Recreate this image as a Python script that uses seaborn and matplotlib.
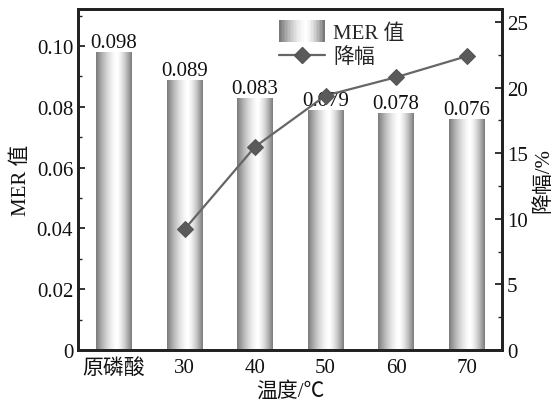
import numpy as np
import matplotlib
matplotlib.use("Agg")
import matplotlib.pyplot as plt
import seaborn as sns
from matplotlib.legend_handler import HandlerBase
from matplotlib.patches import Rectangle
from matplotlib.lines import Line2D
from matplotlib.ticker import MultipleLocator

categories = ["原磷酸", "30", "40", "50", "60", "70"]
mer_values = [0.098, 0.089, 0.083, 0.079, 0.078, 0.076]
drop_categories = ["30", "40", "50", "60", "70"]
drop_values = [9.2, 15.5, 19.4, 20.8, 22.4]

sns.set_theme(style="white")
plt.rcParams["font.family"] = ["Liberation Serif", "Noto Sans CJK SC", "DejaVu Sans"]
FS = 15

fig = plt.figure(figsize=(5.58, 4.14), dpi=100)
ax = fig.add_axes([0.1398, 0.1522, 0.8996 - 0.1398, 0.9758 - 0.1522])

sns.barplot(x=categories, y=mer_values, color="white", width=0.51, ax=ax,
            saturation=1, edgecolor="none", linewidth=0)

# cylindrical gray gradient (dark edges, white just right of centre)
t = np.linspace(0, 1, 200)
peak = 0.58
d = np.where(t < peak, (peak - t) / peak, (t - peak) / (1 - peak))
prof = 1 - 0.52 * d ** 1.5
grad = np.tile(prof, (2, 1))
xlim0 = (-0.51, 5.5)
ylim0 = (0, 0.1122)
for p in ax.patches:
    x0, y0 = p.get_x(), p.get_y()
    w, h = p.get_width(), p.get_height()
    im = ax.imshow(grad, cmap="gray", vmin=0, vmax=1, aspect="auto",
                   extent=[x0, x0 + w, y0, y0 + h], interpolation="bilinear", zorder=2)
    im.set_clip_path(p)
ax.set_xlim(*xlim0)
ax.set_ylim(*ylim0)

for c in ax.containers:
    ax.bar_label(c, labels=[f"{v:.3f}" for v in mer_values], padding=0, fontsize=FS, color="#111")

ax.set_ylabel("MER 值", fontsize=FS, color="#111", labelpad=4)
ax.set_xlabel("温度/℃", fontsize=FS, color="#111", labelpad=2)
ax.yaxis.set_minor_locator(MultipleLocator(0.01))
ax.set_yticks([0, 0.02, 0.04, 0.06, 0.08, 0.10])
ax.set_yticklabels(["0", "0.02", "0.04", "0.06", "0.08", "0.10"])
ax.set_ylim(*ylim0)
ax.tick_params(axis="y", which="major", direction="in", length=5, width=1.2, labelsize=FS, colors="#111", left=True)
ax.tick_params(axis="y", which="minor", direction="in", length=3, width=1.0, left=True)
ax.tick_params(axis="x", length=0, labelsize=FS, colors="#111", pad=6)

ax2 = ax.twinx()
xpos = [categories.index(c) for c in drop_categories]
sns.lineplot(x=xpos, y=drop_values, ax=ax2, color="#666666", linewidth=1.6,
             marker="D", markersize=8, markeredgecolor="#555555", markerfacecolor="#5a5a5a")
ax2.set_xlim(*xlim0)
ax2.set_yticks([0, 5, 10, 15, 20, 25])
ax2.set_yticklabels(["0", "5", "10", "15", "20", "25"])
ax2.yaxis.set_minor_locator(MultipleLocator(2.5))
ax2.set_ylim(0, 26)
ax2.set_ylabel("降幅/%", fontsize=FS, color="#111", labelpad=4)
ax2.tick_params(axis="y", which="major", direction="in", length=5, width=1.2, labelsize=FS, colors="#111", right=True)
ax2.tick_params(axis="y", which="minor", direction="in", length=3, width=1.0, right=True)

for a in (ax, ax2):
    for s in a.spines.values():
        s.set_visible(True)
        s.set_linewidth(2.0)
        s.set_color("#222222")


class GradHandler(HandlerBase):
    def create_artists(self, legend, orig_handle, xdescent, ydescent, width, height, fontsize, trans):
        arts = []
        n = 30
        tt = np.linspace(0, 1, n)
        pr = np.interp(tt, t, prof)
        hh = height * 1.5
        for i in range(n):
            r = Rectangle((-xdescent + width * i / n, -ydescent - (hh - height) / 2), width / n + 0.3, hh,
                          facecolor=str(pr[i]), edgecolor="none", transform=trans)
            arts.append(r)
        return arts


bar_handle = Rectangle((0, 0), 1, 1)
line_handle = Line2D([], [], color="#666666", linewidth=1.6, marker="D", markersize=8,
                     markerfacecolor="#5a5a5a", markeredgecolor="#555555")
ax2.legend([bar_handle, line_handle], ["MER 值", "降幅"], handler_map={Rectangle: GradHandler()},
           loc="upper left", bbox_to_anchor=(0.44, 1.0), frameon=False, fontsize=FS,
           handlelength=2.2, handletextpad=0.4, labelspacing=0.2, borderaxespad=0.3)

fig.savefig("out.png", dpi=100)
